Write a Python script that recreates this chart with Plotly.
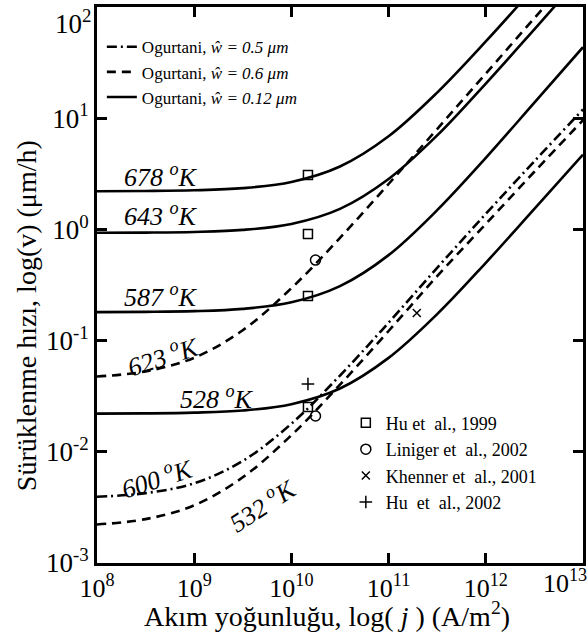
import math
import plotly.graph_objects as go

# Current density grid (A/m^2), half-decade steps
j_grid = [1e8, 3.16e8, 1e9, 3.16e9, 1e10, 3.16e10, 1e11, 3.16e11, 1e12, 3.16e12, 1e13]

# Drift velocity (um/h) of each model curve along j_grid
v_678 = [2.205, 2.215, 2.247, 2.35, 2.67, 3.68, 6.88, 17.0, 49.0, 150, 470]
v_643 = [0.932, 0.936, 0.949, 0.990, 1.12, 1.53, 2.84, 7.0, 20.5, 63.0, 197]
v_587 = [0.1804, 0.1813, 0.184, 0.193, 0.221, 0.309, 0.587, 1.49, 4.4, 13.8, 43.5]
v_528 = [0.02205, 0.02215, 0.0225, 0.0235, 0.0268, 0.0371, 0.0699, 0.173, 0.501, 1.53, 4.7]
v_623 = [0.0475, 0.0529, 0.0701, 0.124, 0.296, 0.839, 2.56, 7.99, 25.2, 79.4, 251]
v_600 = [0.00394, 0.00425, 0.00521, 0.00827, 0.0179, 0.0485, 0.145, 0.451, 1.38, 4.1, 12.0]
v_532 = [0.00222, 0.00248, 0.0033, 0.0059, 0.0141, 0.0401, 0.122, 0.38, 1.12, 3.3, 9.6]

# Experimental points
hu1999_j = [1.48e10, 1.48e10, 1.48e10, 1.48e10]
hu1999_v = [3.08, 0.91, 0.252, 0.0253]
liniger_j = [1.77e10, 1.77e10]
liniger_v = [0.53, 0.021]
khenner_j = [1.95e11]
khenner_v = [0.177]
hu2002_j = [1.48e10]
hu2002_v = [0.0407]

# Axis ticks
x_ticks = [1e8, 1e9, 1e10, 1e11, 1e12, 1e13]
x_ticktext = ["10<sup>8</sup>", "10<sup>9</sup>", "10<sup>10</sup>", "10<sup>11</sup>", "10<sup>12</sup>", ""]
y_ticks = [1e-3, 1e-2, 1e-1, 1e0, 1e1, 1e2]
y_ticktext = ["10<sup>-3</sup>", "10<sup>-2</sup>", "10<sup>-1</sup>", "10<sup>0</sup>", "10<sup>1</sup>", ""]

SERIF = "Liberation Serif"
BLACK = "#000000"
LW = 2.6
DASH = "9px,6px"
DASHDOT = "10px,4px,2px,4px"

fig = go.Figure()

curves = [
    (v_600, DASHDOT, "Ogurtani, <i>ŵ = 0.5 μm</i>", True),
    (v_623, DASH, "Ogurtani, <i>ŵ = 0.6 μm</i>", True),
    (v_678, "solid", "Ogurtani, <i>ŵ = 0.12 μm</i>", True),
    (v_643, "solid", "643", False),
    (v_587, "solid", "587", False),
    (v_528, "solid", "528", False),
    (v_532, DASH, "532", False),
]
for vals, dash, name, show in curves:
    fig.add_trace(go.Scatter(
        x=j_grid, y=vals, mode="lines", name=name, showlegend=show, legend="legend",
        line=dict(color=BLACK, width=LW, dash=dash, shape="spline", smoothing=1.0),
        hoverinfo="skip",
    ))

markers = [
    (hu1999_j, hu1999_v, "square-open", 9, "Hu et\u00a0 al., 1999"),
    (liniger_j, liniger_v, "circle-open", 10, "Liniger et\u00a0 al., 2002"),
    (khenner_j, khenner_v, "x-thin-open", 8, "Khenner et\u00a0 al., 2001"),
    (hu2002_j, hu2002_v, "cross-thin-open", 9, "Hu\u00a0 et\u00a0 al., 2002"),
]
for xs, ys, sym, size, name in markers:
    fig.add_trace(go.Scatter(
        x=xs, y=ys, mode="markers", name=name, legend="legend2",
        marker=dict(symbol=sym, size=size, color=BLACK, line=dict(color=BLACK, width=1.5)),
    ))

# Temperature labels
labels = [
    ("678 <sup>o</sup>K", 4.55e8, 3.08, 0),
    ("643 <sup>o</sup>K", 4.55e8, 1.37, 0),
    ("587 <sup>o</sup>K", 4.6e8, 0.252, 0),
    ("623 <sup>o</sup>K", 4.77e8, 0.0741, -18),
    ("528 <sup>o</sup>K", 1.72e9, 0.0305, 0),
    ("600 <sup>o</sup>K", 4.14e8, 0.00593, -18),
    ("532 <sup>o</sup>K", 4.99e9, 0.00339, -33),
]
annotations = []
for text, xj, yv, ang in labels:
    annotations.append(dict(
        x=math.log10(xj), y=math.log10(yv), xref="x", yref="y", text="<i>" + text + "</i>",
        showarrow=False, textangle=ang, xanchor="center", yanchor="middle",
        font=dict(family=SERIF, size=26, color=BLACK),
    ))

# Edge tick labels kept inside the canvas
annotations.append(dict(
    x=0, xref="paper", y=2, yref="y", text="10<sup>2</sup>", showarrow=False,
    xanchor="right", yanchor="top", xshift=-4, yshift=4,
    font=dict(family=SERIF, size=27, color=BLACK),
))
annotations.append(dict(
    x=13, xref="x", y=0, yref="paper", text="10<sup>13</sup>", showarrow=False,
    xanchor="right", yanchor="top", xshift=6, yshift=0,
    font=dict(family=SERIF, size=26, color=BLACK),
))

# Axis titles
annotations.append(dict(
    x=0.473, xref="paper", y=-0.093, yref="paper",
    text="Akım yoğunluğu, log(<i> j </i>) (A/m<sup>2</sup>)", showarrow=False,
    xanchor="center", yanchor="middle", font=dict(family=SERIF, size=28, color=BLACK),
))
annotations.append(dict(
    x=-0.146, xref="paper", y=0.444, yref="paper",
    text="Sürüklenme hızı, log(v) (μm/h)", showarrow=False, textangle=-90,
    xanchor="center", yanchor="middle", font=dict(family=SERIF, size=28, color=BLACK),
))

axis_common = dict(
    type="log", showgrid=False, zeroline=False, showline=True, linecolor=BLACK,
    linewidth=2.6, mirror="ticks", ticks="inside", ticklen=10, tickwidth=2.6,
    tickcolor=BLACK, tickmode="array", automargin=False,
    tickfont=dict(family=SERIF, size=27, color=BLACK),
)

fig.update_layout(
    template="none",
    width=588, height=635,
    margin=dict(l=97, r=5, t=7, b=72),
    paper_bgcolor="white", plot_bgcolor="white",
    font=dict(family=SERIF, color=BLACK),
    xaxis=dict(axis_common, range=[8, 13], tickvals=x_ticks, ticktext=x_ticktext,
               tickfont=dict(family=SERIF, size=26, color=BLACK)),
    yaxis=dict(axis_common, range=[-3, 2], tickvals=y_ticks, ticktext=y_ticktext),
    legend=dict(
        x=0.01, y=0.96, xanchor="left", yanchor="top", bgcolor="rgba(0,0,0,0)",
        font=dict(family=SERIF, size=17, color=BLACK), traceorder="normal",
    ),
    legend2=dict(
        x=0.512, y=0.285, xanchor="left", yanchor="top", bgcolor="rgba(0,0,0,0)",
        font=dict(family=SERIF, size=18, color=BLACK), traceorder="normal",
    ),
    annotations=annotations,
    showlegend=True,
)

fig.write_html("out.html")
